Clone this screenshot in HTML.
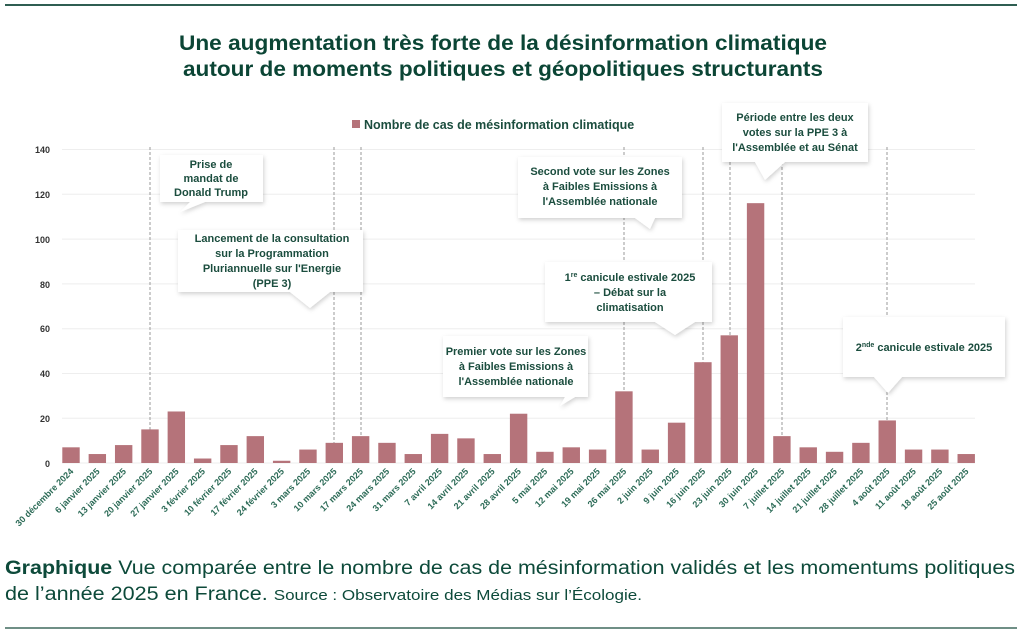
<!DOCTYPE html>
<html><head><meta charset="utf-8"><style>
html,body{margin:0;padding:0;background:#fff;width:1024px;height:635px;overflow:hidden}
svg{display:block}
</style></head><body>
<svg width="1024" height="635" viewBox="0 0 1024 635" xmlns="http://www.w3.org/2000/svg" font-family="'Liberation Sans', sans-serif">
<defs>
<filter id="sh" x="-10%" y="-10%" width="125%" height="135%">
<feDropShadow dx="1" dy="2" stdDeviation="2" flood-color="#000" flood-opacity="0.18"/>
</filter>
</defs>
<line x1="5" y1="5" x2="1017" y2="5" stroke="#2f5e52" stroke-width="2"/>
<line x1="5" y1="628" x2="1017" y2="628" stroke="#6f8f86" stroke-width="2"/>
<g fill="#0b4535" font-weight="bold" font-size="21" text-anchor="middle">
<text x="503" y="50" textLength="648" lengthAdjust="spacingAndGlyphs">Une augmentation très forte de la désinformation climatique</text>
<text x="503" y="76" textLength="640" lengthAdjust="spacingAndGlyphs">autour de moments politiques et géopolitiques structurants</text>
</g>
<rect x="352" y="120" width="8" height="8" fill="#b5737a"/>
<text x="364" y="129" font-size="12.5" fill="#1b4d3e" font-weight="bold">Nombre de cas de mésinformation climatique</text>
<g id="grid" stroke="#eeeeee" stroke-width="1">
<line x1="62" x2="975" y1="149.5" y2="149.5"/><line x1="62" x2="975" y1="194.3" y2="194.3"/>
<line x1="62" x2="975" y1="239.1" y2="239.1"/><line x1="62" x2="975" y1="283.9" y2="283.9"/>
<line x1="62" x2="975" y1="328.7" y2="328.7"/><line x1="62" x2="975" y1="373.5" y2="373.5"/>
<line x1="62" x2="975" y1="418.3" y2="418.3"/><line x1="62" x2="975" y1="463" y2="463"/>
</g>
<g font-size="9" font-weight="bold" fill="#333" text-anchor="end">
<text x="50" y="153">140</text><text x="50" y="198">120</text><text x="50" y="243">100</text>
<text x="50" y="288">80</text><text x="50" y="332">60</text><text x="50" y="377">40</text>
<text x="50" y="422">20</text><text x="50" y="467">0</text>
</g>
<g stroke="#9a9a9a" stroke-width="1" stroke-dasharray="3,2">
<line x1="150" x2="150" y1="147" y2="463"/><line x1="334" x2="334" y1="147" y2="463"/>
<line x1="361" x2="361" y1="147" y2="463"/><line x1="624" x2="624" y1="147" y2="463"/>
<line x1="703" x2="703" y1="147" y2="463"/><line x1="730" x2="730" y1="147" y2="463"/>
<line x1="782" x2="782" y1="147" y2="463"/><line x1="887" x2="887" y1="147" y2="463"/>
</g>
<g id="bars" fill="#b5737a"></g>
<g id="labels" font-size="9" font-weight="bold" fill="#2c6b57" text-anchor="end"></g>
<g filter="url(#sh)" fill="#fff">
<path d="M160,155 H263 V202 H205 L180,212 L190,202 H160 Z"/>
<path d="M178,230 H363 V292 H330 L310,308 L290,292 H178 Z"/>
<path d="M443,336 H588 V397 H575 L560,406 L565,397 H443 Z"/>
<path d="M518,157 H682 V218 H655 L650,229 L635,218 H518 Z"/>
<path d="M545,262 H712 V322 H695 L675,335 L655,322 H545 Z"/>
<path d="M722,103 H868 V162 H785 L765,180 L755,162 H722 Z"/>
<path d="M843,317 H1005 V377 H902 L888,393 L874,377 H843 Z"/>
</g>
<g font-size="11" font-weight="bold" fill="#1b4d3e" text-anchor="middle">
<text x="211" y="168">Prise de</text><text x="211" y="182">mandat de</text><text x="211" y="196">Donald Trump</text>
<text x="272" y="242">Lancement de la consultation</text><text x="272" y="257">sur la Programmation</text><text x="272" y="272">Pluriannuelle sur l'Energie</text><text x="272" y="287">(PPE 3)</text>
<text x="516" y="355">Premier vote sur les Zones</text><text x="516" y="370">à Faibles Emissions à</text><text x="516" y="385">l'Assemblée nationale</text>
<text x="600" y="175">Second vote sur les Zones</text><text x="600" y="190">à Faibles Emissions à</text><text x="600" y="205">l'Assemblée nationale</text>
<text x="630" y="281">1<tspan font-size="7" dy="-4">re</tspan><tspan dy="4"> canicule estivale 2025</tspan></text><text x="630" y="296">– Débat sur la</text><text x="630" y="311">climatisation</text>
<text x="795" y="121">Période entre les deux</text><text x="795" y="136">votes sur la PPE 3 à</text><text x="795" y="151">l'Assemblée et au Sénat</text>
<text x="924" y="351">2<tspan font-size="7" dy="-4">nde</tspan><tspan dy="4"> canicule estivale 2025</tspan></text>
</g>
<g fill="#0d4a3a">
<text x="5" y="574" font-size="19" textLength="1010" lengthAdjust="spacingAndGlyphs"><tspan font-weight="bold">Graphique</tspan> Vue comparée entre le nombre de cas de mésinformation validés et les momentums politiques</text>
<text x="5" y="600" font-size="19" textLength="637" lengthAdjust="spacingAndGlyphs">de l’année 2025 en France. <tspan font-size="15">Source : Observatoire des Médias sur l’Écologie.</tspan></text>
</g>
</svg>
<script>
var v=[7,4,8,15,23,2,8,12,1,6,9,12,9,4,13,11,4,22,5,7,6,32,6,18,45,57,116,12,7,5,9,19,6,6,4];
var l=["30 décembre 2024","6 janvier 2025","13 janvier 2025","20 janvier 2025","27 janvier 2025","3 février 2025","10 février 2025","17 février 2025","24 février 2025","3 mars 2025","10 mars 2025","17 mars 2025","24 mars 2025","31 mars 2025","7 avril 2025","14 avril 2025","21 avril 2025","28 avril 2025","5 mai 2025","12 mai 2025","19 mai 2025","26 mai 2025","2 juin 2025","9 juin 2025","16 juin 2025","23 juin 2025","30 juin 2025","7 juillet 2025","14 juillet 2025","21 juillet 2025","28 juillet 2025","4 août 2025","11 août 2025","18 août 2025","25 août 2025"];
var ns="http://www.w3.org/2000/svg",b=document.getElementById("bars"),g=document.getElementById("labels");
for(var i=0;i<v.length;i++){var c=71+i*26.33,h=v[i]*2.24;
var r=document.createElementNS(ns,"rect");r.setAttribute("x",c-8.7);r.setAttribute("width",17.4);r.setAttribute("y",463-h);r.setAttribute("height",h);b.appendChild(r);
var t=document.createElementNS(ns,"text");t.setAttribute("transform","translate("+(c+3)+",472) rotate(-45)");t.textContent=l[i];g.appendChild(t);}
</script>
</body></html>
